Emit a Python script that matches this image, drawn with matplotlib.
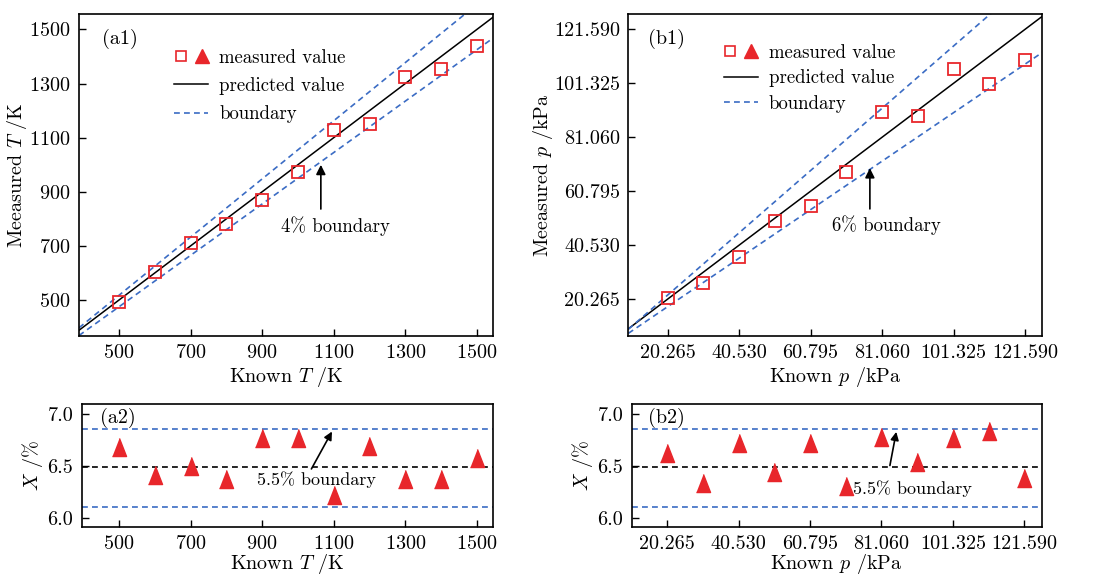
import matplotlib
matplotlib.use("Agg")
import matplotlib.pyplot as plt
from matplotlib.legend_handler import HandlerTuple
from matplotlib.lines import Line2D
import numpy as np

plt.rcParams['font.family'] = ['cmr10', 'DejaVu Serif']
plt.rcParams['mathtext.fontset'] = 'cm'
plt.rcParams['axes.formatter.use_mathtext'] = True
plt.rcParams['axes.unicode_minus'] = False

# ---- data ----
known_T = [500, 600, 700, 800, 900, 1000, 1100, 1200, 1300, 1400, 1500]
meas_T = [494, 602, 712, 780, 868, 972, 1129, 1150, 1323, 1354, 1437]
x_T = [6.68, 6.415, 6.50, 6.38, 6.77, 6.77, 6.22, 6.69, 6.38, 6.38, 6.575]

known_p = [20.265, 30.3975, 40.53, 50.6625, 60.795, 70.9275, 81.06,
           91.1925, 101.325, 111.4575, 121.59]
meas_p = [20.5, 26.4, 35.9, 49.6, 55.3, 67.9, 90.4, 88.9, 106.8, 100.9, 109.9]
x_p = [6.63, 6.335, 6.725, 6.447, 6.725, 6.31, 6.78, 6.54, 6.767, 6.835, 6.386]

T_ticks = [500, 700, 900, 1100, 1300, 1500]
p_ticks = [20.265, 40.530, 60.795, 81.060, 101.325, 121.590]
p_ticklabels = ['20.265', '40.530', '60.795', '81.060', '101.325', '121.590']
X_ticks = [6.0, 6.5, 7.0]

# boundary lines: (slope, intercept) for upper and lower
bound_T = ((1.075, -20.0), (0.95, 0.0))
bound_p = ((1.154, -1.6), (0.899, -0.8))
X_mean, X_hi, X_lo = 6.49, 6.86, 6.11

red = '#e8262b'
blue = '#3b6cc4'
fs = 14.5

fig = plt.figure(figsize=(10.95, 5.77), dpi=100)
ax_a1 = fig.add_axes([0.0721, 0.4177, 0.3781, 0.558])
ax_b1 = fig.add_axes([0.5738, 0.4177, 0.3781, 0.558])
ax_a2 = fig.add_axes([0.0746, 0.0867, 0.3756, 0.2132])
ax_b2 = fig.add_axes([0.5769, 0.0867, 0.3744, 0.2132])

for ax in (ax_a1, ax_b1, ax_a2, ax_b2):
    ax.tick_params(direction='in', length=5, width=1, labelsize=fs,
                   top=False, right=False, pad=6)
    for s in ax.spines.values():
        s.set_linewidth(1.2)

dash = (0, (3.5, 2.5))
tri = [(-0.78, -1), (0.78, -1), (0, 1)]


def top_panel(ax, known, meas, bounds, lim_x, lim_y, ticks):
    xx = np.array(lim_x)
    ax.plot(xx, xx, color='black', lw=1.1)
    for slope, icpt in bounds:
        ax.plot(xx, slope * xx + icpt, color=blue, lw=1.2, linestyle=dash)
    ax.plot(known, meas, linestyle='none', marker='s', ms=8, mfc='none',
            mec=red, mew=1.3)
    ax.set_xlim(lim_x)
    ax.set_ylim(lim_y)
    ax.set_xticks(ticks)
    ax.set_yticks(ticks)


top_panel(ax_a1, known_T, meas_T, bound_T, (388, 1545), (367, 1557), T_ticks)
top_panel(ax_b1, known_p, meas_p, bound_p, (9.1, 126.5), (6.4, 127.35), p_ticks)
ax_b1.set_xticklabels(p_ticklabels)
ax_b1.set_yticklabels(p_ticklabels)

ax_a1.set_xlabel(r'Known $T$ /K', fontsize=fs, labelpad=2)
ax_a1.set_ylabel(r'Meeasured $T$ /K', fontsize=fs, labelpad=0)
ax_b1.set_xlabel(r'Known $p$ /kPa', fontsize=fs, labelpad=2)
ax_b1.set_ylabel(r'Meeasured $p$ /kPa', fontsize=fs, labelpad=-1)

ax_a1.text(0.0555, 0.922, '(a1)', transform=ax_a1.transAxes, fontsize=fs,
           va='center')
ax_b1.text(0.048, 0.922, '(b1)', transform=ax_b1.transAxes, fontsize=fs,
           va='center')

ax_a1.annotate('', xy=(1064, 1010), xytext=(1064, 826),
               arrowprops=dict(arrowstyle='-|>', color='black', lw=1.2,
                               mutation_scale=14))
ax_a1.text(1105, 773, '4% boundary', fontsize=fs - 1, ha='center', va='center')
ax_b1.annotate('', xy=(77.6, 70.5), xytext=(77.6, 53.1),
               arrowprops=dict(arrowstyle='-|>', color='black', lw=1.2,
                               mutation_scale=14))
ax_b1.text(82.3, 47.9, '6% boundary', fontsize=fs - 1, ha='center', va='center')

# legends
h_sq = Line2D([], [], linestyle='none', marker='s', ms=7, mfc='none',
              mec=red, mew=1.2)
h_tri = Line2D([], [], linestyle='none', marker='^', ms=10, color=red)
h_line = Line2D([], [], color='black', lw=1.1)
h_dash = Line2D([], [], color=blue, lw=1.2, linestyle=dash)
for ax, anchor, sp in ((ax_a1, (0.19, 0.945), 0.55), (ax_b1, (0.19, 0.96), 0.4)):
    ax.legend([(h_sq, h_tri), h_line, h_dash],
              ['measured value', 'predicted value', 'boundary'],
              handler_map={tuple: HandlerTuple(ndivide=None, pad=0.4)},
              loc='upper left', bbox_to_anchor=anchor, frameon=False,
              fontsize=fs - 1, handlelength=1.8, handletextpad=0.6,
              labelspacing=sp)


def bottom_panel(ax, known, xv, lim_x, ticks):
    ax.axhline(X_mean, color='black', lw=1.2, linestyle=dash)
    ax.axhline(X_hi, color=blue, lw=1.2, linestyle=dash)
    ax.axhline(X_lo, color=blue, lw=1.2, linestyle=dash)
    ax.plot(known, xv, linestyle='none', marker=tri, ms=13, color=red)
    ax.set_xlim(lim_x)
    ax.set_ylim(5.917, 7.096)
    ax.set_xticks(ticks)
    ax.set_yticks(X_ticks)
    ax.set_yticklabels(['6.0', '6.5', '7.0'])
    ax.set_ylabel(r'$X$ /%', fontsize=fs, labelpad=2)


bottom_panel(ax_a2, known_T, x_T, (396, 1545), T_ticks)
bottom_panel(ax_b2, known_p, x_p, (10.2, 126.5), p_ticks)
ax_b2.set_xticklabels(p_ticklabels)
ax_a2.set_xlabel(r'Known $T$ /K', fontsize=fs, labelpad=-1)
ax_b2.set_xlabel(r'Known $p$ /kPa', fontsize=fs, labelpad=-1)

ax_a2.text(0.0445, 0.886, '(a2)', transform=ax_a2.transAxes, fontsize=fs,
           va='center')
ax_b2.text(0.04, 0.886, '(b2)', transform=ax_b2.transAxes, fontsize=fs,
           va='center')

ax_a2.annotate('', xy=(1099, 6.855), xytext=(1034, 6.45),
               arrowprops=dict(arrowstyle='-|>', color='black', lw=1.2,
                               mutation_scale=12))
ax_a2.text(1051, 6.374, '5.5% boundary', fontsize=fs - 1.5, ha='center',
           va='center')
ax_b2.annotate('', xy=(85.4, 6.855), xytext=(83.3, 6.48),
               arrowprops=dict(arrowstyle='-|>', color='black', lw=1.2,
                               mutation_scale=12))
ax_b2.text(89.9, 6.28, '5.5% boundary', fontsize=fs - 1.5, ha='center',
           va='center')

fig.savefig('out.png', dpi=100)
